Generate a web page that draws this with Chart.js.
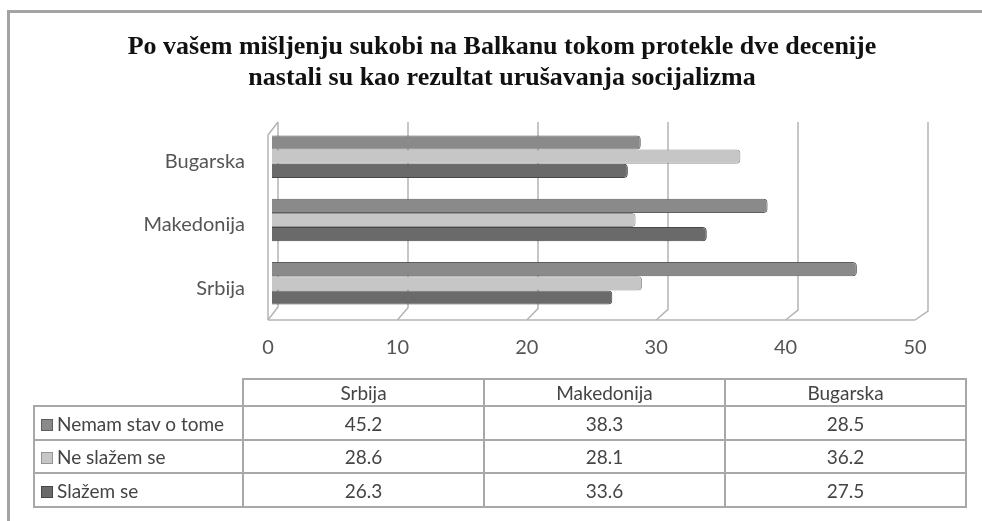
<!DOCTYPE html>
<html>
<head>
<meta charset="utf-8">
<script src="https://cdn.jsdelivr.net/npm/chart.js@4"></script>
<style>
    html, body { margin: 0; padding: 0; background: #fff; }
    #wrapper { position: relative; width: 982px; height: 521px; overflow: hidden; }
    #frame {
        position: absolute; left: 7px; top: 10px; width: 1100px; height: 700px;
        border-left: 3px solid #a3a3a3; border-top: 3px solid #a3a3a3;
    }
    #chart { position: absolute; left: 0; top: 0; }
    #dataTable {
        position: absolute; left: 33px; top: 378px; width: 934px;
        border-collapse: collapse; table-layout: fixed;
        font-family: Lato, "Open Sans", sans-serif; font-size: 19px; color: #444;
    }
    #dataTable td { border: 2px solid #a8a8a8; text-align: center; padding: 0; }
    #dataTable td.lbl { text-align: left; padding-left: 6px; white-space: nowrap; }
    #dataTable td.empty { border: none; }
    .key {
        display: inline-block; width: 10px; height: 10px; margin-right: 4px;
        vertical-align: 0px; border: 1px solid #777;
    }
</style>
</head>
<body>
<div id="wrapper">
    <div id="frame"></div>
    <canvas id="chart" width="982" height="521"></canvas>
    <table id="dataTable"></table>
</div>
<script>
// podaci sa slike
const categories = ['Srbija', 'Makedonija', 'Bugarska'];
const seriesNames = ['Nemam stav o tome', 'Ne slažem se', 'Slažem se'];
const nemamStav = [45.2, 38.3, 28.5];
const neSlazem = [28.6, 28.1, 36.2];
const slazem = [26.3, 33.6, 27.5];
const xMax = 50;
const xStep = 10;
const titleLines = ['Po vašem mišljenju sukobi na Balkanu tokom protekle dve decenije',
                    'nastali su kao rezultat urušavanja socijalizma'];

const fills = ['#8a8a8a', '#c6c6c6', '#6a6a6a'];
const borders = ['#5e5e5e', '#959595', '#474747'];

// grafikon ide odozgo nadole: Bugarska, Makedonija, Srbija
const chartLabels = categories.slice().reverse();
const seriesValues = [nemamStav, neSlazem, slazem];

// "3D" zidovi iza stubića
const wallsPlugin = {
    id: 'walls',
    beforeDatasetsDraw(chart) {
        const ctx = chart.ctx;
        const xs = chart.scales.x;
        const area = chart.chartArea;
        const top = area.top - 8;
        const depth = v => ({ dx: 10 + 3 * v / xMax, dy: -13 + 4 * v / xMax });

        ctx.save();
        ctx.strokeStyle = '#b4b4b4';
        ctx.lineWidth = 1.5;

        for (let v = 0; v <= xMax; v += xStep) {
            const d = depth(v);
            const fx = xs.getPixelForValue(v);
            ctx.beginPath();
            ctx.moveTo(fx + d.dx, top);
            ctx.lineTo(fx + d.dx, area.bottom + d.dy);
            ctx.lineTo(fx, area.bottom);
            ctx.stroke();
        }

        // lijevi zid
        const d0 = depth(0);
        const x0 = xs.getPixelForValue(0);
        ctx.beginPath();
        ctx.moveTo(x0, area.bottom);
        ctx.lineTo(x0, top - d0.dy);
        ctx.lineTo(x0 + d0.dx, top);
        ctx.stroke();

        // pod
        ctx.beginPath();
        ctx.moveTo(x0, area.bottom);
        ctx.lineTo(xs.getPixelForValue(xMax), area.bottom);
        ctx.stroke();
        ctx.restore();

        ctx.save();
        ctx.translate(4, -5);
    },
    afterDatasetsDraw(chart) {
        chart.ctx.restore();
    }
};

// naslov centriran na cijelu sliku
const titlePlugin = {
    id: 'bigTitle',
    afterDraw(chart) {
        const ctx = chart.ctx;
        ctx.save();
        ctx.fillStyle = '#111';
        ctx.font = 'bold 26px "Liberation Serif"';
        ctx.textAlign = 'center';
        ctx.textBaseline = 'middle';
        titleLines.forEach((line, i) => ctx.fillText(line, 502, 47 + i * 31));
        ctx.restore();
    }
};

const ctxChart = document.getElementById('chart');
new Chart(ctxChart, {
    type: 'bar',
    data: {
        labels: chartLabels,
        datasets: seriesNames.map((name, i) => ({
            label: name,
            data: seriesValues[i].slice().reverse(),
            backgroundColor: fills[i],
            borderColor: borders[i],
            borderWidth: 1,
            borderRadius: 4,
            borderSkipped: 'start',
            categoryPercentage: 0.67,
            barPercentage: 1
        }))
    },
    options: {
        indexAxis: 'y',
        responsive: false,
        animation: false,
        layout: { padding: { top: 130, left: 0, right: 67, bottom: 161 } },
        scales: {
            x: {
                min: 0,
                max: xMax,
                ticks: {
                    stepSize: xStep,
                    padding: 16,
                    color: '#555',
                    font: { family: 'Lato', size: 20 }
                },
                grid: { display: false, drawTicks: false },
                border: { display: false },
                afterFit(scale) { scale.height = 40; }
            },
            y: {
                ticks: {
                    padding: 23,
                    color: '#555',
                    font: { family: 'Lato', size: 20 }
                },
                grid: { display: false, drawTicks: false },
                border: { display: false },
                afterFit(scale) { scale.width = 268; }
            }
        },
        plugins: {
            legend: { display: false },
            tooltip: { enabled: false },
            title: { display: false }
        }
    },
    plugins: [wallsPlugin, titlePlugin]
});

// tabela sa podacima ispod grafikona
const table = document.getElementById('dataTable');
let html = '<colgroup><col style="width:209px">' +
    categories.map(() => '<col style="width:241px">').join('') + '</colgroup>';
html += '<tr style="height:27px"><td class="empty"></td>' +
    categories.map(c => '<td>' + c + '</td>').join('') + '</tr>';
const rowHeights = [34, 33, 34];
seriesNames.forEach((name, i) => {
    html += '<tr style="height:' + rowHeights[i] + 'px"><td class="lbl"><span class="key" style="background:' +
        fills[i] + ';border-color:' + borders[i] + '"></span>' + name + '</td>' +
        seriesValues[i].map(v => '<td>' + v.toFixed(1) + '</td>').join('') + '</tr>';
});
table.innerHTML = html;
</script>
</body>
</html>
